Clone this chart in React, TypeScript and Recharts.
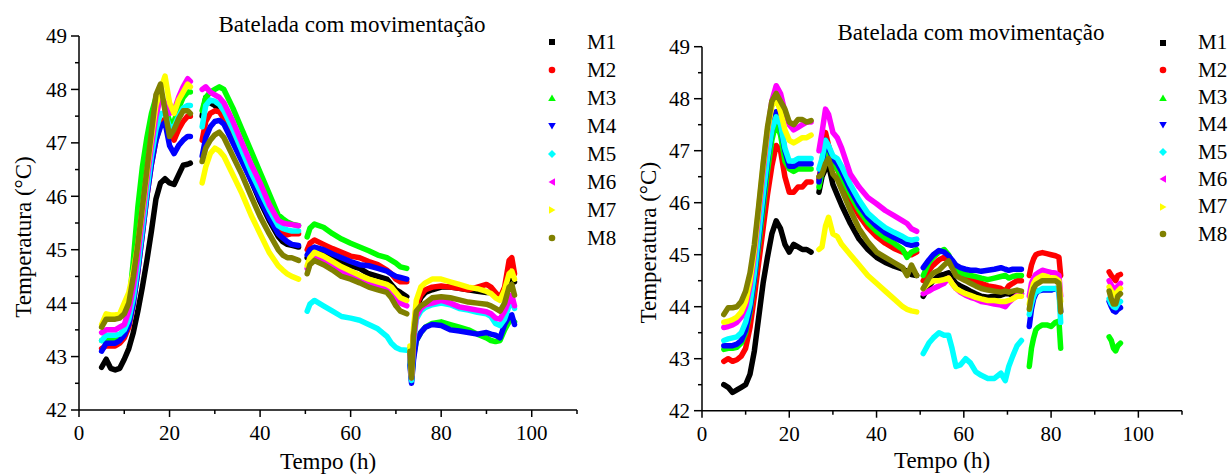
import { LineChart, Line, XAxis, YAxis } from "recharts";

const FONT = "'Liberation Serif', 'Times New Roman', serif";

const SERIES = [
  { key: "M1", color: "#000000", shape: "square" },
  { key: "M2", color: "#ff0000", shape: "circle" },
  { key: "M3", color: "#00ff00", shape: "up" },
  { key: "M4", color: "#0000ff", shape: "down" },
  { key: "M5", color: "#00ffff", shape: "diamond" },
  { key: "M6", color: "#ff00ff", shape: "left" },
  { key: "M7", color: "#ffff00", shape: "right" },
  { key: "M8", color: "#808000", shape: "circle" },
];

const X_TICKS = [0, 10, 20, 30, 40, 50, 60, 70, 80, 90, 100, 110];
const Y_TICKS = [42, 42.5, 43, 43.5, 44, 44.5, 45, 45.5, 46, 46.5, 47, 47.5, 48, 48.5, 49];

// left panel: time (h) per recording segment, and each probe's temperature per segment
const leftTime = [
  [5, 6, 7, 8, 9, 10, 11, 12, 13, 14, 15, 16, 17, 18, 19, 20, 21, 22, 23, 24, 24.6],
  [27.2, 28, 29, 30, 31, 32, 34, 36, 38, 40, 42, 44, 45, 46, 47, 48.5],
  [50.4, 51, 52, 54, 56, 58, 60, 62, 64, 66, 68, 69, 70, 71, 72.4],
  [73.1, 73.45, 73.9, 74.5, 75.5, 76.5, 78, 80, 82, 84, 86, 88, 90, 91, 92, 93, 94, 95, 95.6, 96.2],
];
const leftM1 = [
  [42.8, 42.95, 42.78, 42.75, 42.78, 42.95, 43.15, 43.45, 43.85, 44.3, 44.8, 45.35, 45.95, 46.25, 46.33, 46.25, 46.22, 46.4, 46.58, 46.6, 46.62],
  [47.5, 47.85, 47.75, 47.7, 47.62, 47.5, 47.1, 46.7, 46.3, 45.9, 45.55, 45.25, 45.15, 45.1, 45.08, 45.05],
  [44.85, 44.95, 45.0, 44.95, 44.85, 44.75, 44.7, 44.65, 44.55, 44.5, 44.45, 44.35, 44.25, 44.2, 44.12],
  [43.1, 42.6, 43.4, 43.9, 44.1, 44.2, 44.25, 44.3, 44.3, 44.28, 44.25, 44.22, 44.2, 44.2, 44.15, 44.1, 44.2, 44.45, 44.55, 44.4],
];
const leftM2 = [
  [43.15, 43.2, 43.2, 43.2, 43.25, 43.35, 43.55, 44.0, 44.6, 45.3, 46.0, 46.6, 47.05, 47.35, 47.45, 47.15, 47.05, 47.25, 47.4, 47.5, 47.5],
  [47.05, 47.4, 47.55, 47.6, 47.58, 47.45, 47.1, 46.72, 46.35, 45.98, 45.65, 45.38, 45.3, 45.28, 45.3, 45.3],
  [45.0, 45.12, 45.18, 45.1, 45.02, 44.95, 44.88, 44.85, 44.78, 44.72, 44.62, 44.55, 44.45, 44.4, 44.4],
  [43.15, 42.6, 43.45, 43.95, 44.15, 44.25, 44.3, 44.32, 44.3, 44.28, 44.25, 44.3, 44.35, 44.3, 44.2, 44.1, 44.3, 44.8, 44.85, 44.55],
];
const leftM3 = [
  [43.3, 43.3, 43.3, 43.3, 43.35, 43.5, 43.95, 44.8, 45.8, 46.55, 47.1, 47.55, 47.85, 47.9, 47.7, 47.4, 47.4, 47.65, 47.85, 47.95, 47.95],
  [47.6, 47.85, 47.95, 48.0, 48.05, 48.0, 47.65, 47.25, 46.85, 46.45, 46.05, 45.65, 45.58, 45.52, 45.48, 45.45],
  [45.24, 45.4, 45.48, 45.42, 45.3, 45.2, 45.12, 45.05, 44.98, 44.9, 44.85, 44.8, 44.75, 44.68, 44.65],
  [42.9, 42.55, 43.0, 43.3, 43.45, 43.55, 43.62, 43.65, 43.6, 43.55, 43.5, 43.42, 43.35, 43.3, 43.28, 43.3, 43.5, 43.65, 43.7, 43.65],
];
const leftM4 = [
  [43.1, 43.25, 43.25, 43.25, 43.3, 43.4, 43.6, 44.0, 44.6, 45.3, 46.0, 46.6, 47.05, 47.3, 47.38, 46.95, 46.8, 46.95, 47.05, 47.12, 47.12],
  [46.75, 47.1, 47.3, 47.4, 47.42, 47.35, 47.0, 46.65, 46.3, 45.95, 45.6, 45.3, 45.22, 45.15, 45.1, 45.08],
  [44.9, 45.0, 45.05, 45.0, 44.92, 44.85, 44.78, 44.72, 44.7, 44.65, 44.6, 44.55, 44.5, 44.48, 44.45],
  [42.85, 42.5, 42.95, 43.3, 43.45, 43.55, 43.6, 43.58, 43.5, 43.48, 43.45, 43.42, 43.45, 43.42, 43.4, 43.35, 43.6, 43.75, 43.78, 43.6],
];
const leftM5 = [
  [43.3, 43.4, 43.4, 43.4, 43.42, 43.5, 43.7, 44.1, 44.7, 45.4, 46.1, 46.75, 47.25, 47.55, 47.55, 47.3, 47.3, 47.5, 47.65, 47.7, 47.7],
  [47.3, 47.7, 47.8, 47.78, 47.72, 47.6, 47.25, 46.85, 46.45, 46.1, 45.75, 45.45, 45.4, 45.37, 45.35, 45.35],
  [43.85, 43.98, 44.05, 43.95, 43.85, 43.75, 43.72, 43.68, 43.6, 43.52, 43.38, 43.25, 43.17, 43.13, 43.12],
  [43.0, 42.55, 43.25, 43.7, 43.85, 43.92, 43.97, 44.0, 43.97, 43.9, 43.87, 43.83, 43.8, 43.75, 43.62, 43.58, 43.7, 43.95, 44.05, 43.9],
];
const leftM6 = [
  [43.45, 43.5, 43.5, 43.5, 43.55, 43.6, 43.85, 44.3, 44.9, 45.6, 46.3, 46.95, 47.5, 47.85, 47.75, 47.55, 47.6, 47.85, 48.05, 48.2, 48.15],
  [48.0, 48.05, 47.95, 47.9, 47.85, 47.75, 47.4, 47.0, 46.6, 46.25, 45.85, 45.55, 45.5, 45.48, 45.47, 45.45],
  [44.65, 44.8, 44.88, 44.8, 44.7, 44.6, 44.52, 44.45, 44.38, 44.32, 44.25, 44.2, 44.1, 44.0, 43.95],
  [43.05, 42.6, 43.3, 43.75, 43.9, 43.97, 44.0, 44.05, 44.0, 43.93, 43.9, 43.87, 43.84, 43.8, 43.72, 43.7, 43.85, 44.05, 44.15, 43.95],
];
const leftM7 = [
  [43.6, 43.8, 43.78, 43.78, 43.8, 44.0, 44.2, 44.6, 45.1, 45.75, 46.45, 47.1, 47.7, 48.0, 48.25, 47.75, 47.55, 47.8, 47.95, 48.1, 48.05],
  [46.25, 46.55, 46.8, 46.9, 46.85, 46.75, 46.4, 46.05, 45.65, 45.3, 44.95, 44.7, 44.62, 44.55, 44.5, 44.45],
  [44.7, 44.85, 44.95, 44.88, 44.78, 44.68, 44.6, 44.52, 44.45, 44.4, 44.35, 44.3, 44.2, 44.1, 44.05],
  [43.2, 42.65, 43.55, 44.05, 44.3, 44.38, 44.45, 44.45, 44.4, 44.35, 44.3, 44.27, 44.22, 44.18, 44.1, 44.05, 44.25, 44.55, 44.6, 44.45],
];
const leftM8 = [
  [43.55, 43.7, 43.7, 43.7, 43.72, 43.8, 44.0, 44.5, 45.1, 45.8, 46.5, 47.2, 47.9, 48.1, 47.6, 47.12, 47.25, 47.45, 47.6, 47.6, 47.55],
  [46.65, 46.9, 47.05, 47.15, 47.2, 47.1, 46.75, 46.4, 46.0, 45.62, 45.3, 45.0, 44.9, 44.85, 44.85, 44.8],
  [44.55, 44.72, 44.8, 44.72, 44.62, 44.5, 44.45, 44.38, 44.3, 44.25, 44.2, 44.1, 43.95, 43.85, 43.8],
  [43.1, 42.6, 43.4, 43.85, 43.95, 44.0, 44.1, 44.12, 44.1, 44.06, 44.02, 44.0, 43.98, 43.95, 43.9, 43.85, 44.0, 44.3, 44.35, 44.15],
];

// right panel
const rightTime = [
  [5, 6, 7, 8, 9, 10, 11, 12, 13, 14, 15, 16, 17, 18, 19, 20, 21, 22, 23, 24, 25],
  [26.8, 27.5, 28.3, 29, 30, 31, 32, 34, 36, 38, 40, 42, 44, 46, 47, 48, 49.2],
  [50.7, 52, 53, 54.3, 55.5, 56.5, 57.3, 58.2, 59.2, 60.4, 61.5, 62.7, 64, 65.5, 67, 68.5, 69.5, 70.3, 71.2, 72.2, 73.2],
  [75, 75.5, 76, 76.5, 77, 78, 79, 80, 81, 81.8, 82.2],
  [93.3, 93.8, 94.3, 94.8, 95.3, 95.9],
];
const rightM1 = [
  [42.5, 42.45, 42.35, 42.4, 42.45, 42.5, 42.7, 43.15, 43.8, 44.45, 44.95, 45.4, 45.65, 45.5, 45.2, 45.05, 45.2, 45.15, 45.1, 45.1, 45.05],
  [46.2, 46.5, 46.65, 46.72, 46.35, 46.15, 45.95, 45.6, 45.3, 45.1, 44.95, 44.85, 44.78, 44.72, 44.68, 44.62, 44.6],
  [44.2, 44.4, 44.5, 44.6, 44.62, 44.65, 44.55, 44.45, 44.4, 44.35, 44.3, 44.25, 44.2, 44.18, 44.2, 44.22, 44.25, 44.25, 44.22, 44.25, 44.25],
  [],
  [],
];
const rightM2 = [
  [42.95, 43.0, 42.95, 42.98, 43.05, 43.2, 43.6, 44.2, 44.85, 45.5, 46.15, 46.7, 47.1, 47.0, 46.5, 46.2, 46.2, 46.3, 46.3, 46.4, 46.4],
  [46.45, 46.8, 47.35, 47.1, 46.8, 46.65, 46.45, 46.05, 45.75, 45.52, 45.35, 45.22, 45.12, 45.05, 45.0, 45.0, 45.05],
  [44.5, 44.7, 44.8, 44.9, 44.95, 44.9, 44.78, 44.65, 44.6, 44.55, 44.52, 44.5, 44.45, 44.4, 44.38, 44.35, 44.3, 44.4, 44.45, 44.5, 44.5],
  [44.6, 44.8, 44.92, 45.0, 45.02, 45.04, 45.02, 45.0, 44.98, 44.95, 44.6],
  [44.67, 44.6, 44.55, 44.5, 44.6, 44.62],
];
const rightM3 = [
  [43.18, 43.2, 43.2, 43.22, 43.3, 43.5, 43.9, 44.5, 45.2, 45.9, 46.6, 47.2, 47.55, 47.3, 46.8, 46.65, 46.6, 46.65, 46.65, 46.65, 46.65],
  [46.3, 46.6, 47.05, 46.95, 46.75, 46.65, 46.5, 46.15, 45.85, 45.62, 45.45, 45.32, 45.22, 45.1, 44.95, 45.05, 45.1],
  [44.6, 44.85, 44.95, 45.05, 45.1, 45.0, 44.85, 44.72, 44.65, 44.62, 44.6, 44.58, 44.55, 44.52, 44.55, 44.58, 44.6, 44.55, 44.58, 44.6, 44.6],
  [42.85, 43.2, 43.4, 43.55, 43.6, 43.65, 43.65, 43.62, 43.7, 43.72, 43.2],
  [43.42, 43.35, 43.2, 43.15, 43.25, 43.3],
];
const rightM4 = [
  [43.25, 43.25, 43.25, 43.28, 43.35, 43.55, 43.95, 44.55, 45.3, 46.05, 46.8, 47.4, 47.75, 47.5, 47.0, 46.7, 46.7, 46.75, 46.75, 46.75, 46.75],
  [46.4, 46.75, 47.2, 47.05, 46.85, 46.75, 46.6, 46.25, 45.95, 45.72, 45.55, 45.42, 45.33, 45.25, 45.2, 45.18, 45.2],
  [44.75, 44.9, 45.0, 45.08, 45.05, 44.98, 44.9, 44.8, 44.75, 44.72, 44.7, 44.7, 44.68, 44.7, 44.72, 44.75, 44.72, 44.7, 44.72, 44.72, 44.72],
  [43.62, 43.95, 44.15, 44.25, 44.3, 44.32, 44.32, 44.32, 44.35, 44.3, 43.9],
  [44.1, 44.0, 43.92, 43.9, 43.95, 43.98],
];
const rightM5 = [
  [43.35, 43.38, 43.4, 43.42, 43.5, 43.7, 44.05, 44.65, 45.4, 46.15, 46.85, 47.4, 47.65, 47.5, 47.05, 46.8, 46.8, 46.85, 46.85, 46.85, 46.85],
  [46.65, 46.85, 47.2, 47.1, 46.9, 46.85, 46.7, 46.35, 46.05, 45.8, 45.65, 45.52, 45.43, 45.35, 45.3, 45.28, 45.3],
  [43.1, 43.3, 43.4, 43.5, 43.45, 43.45, 43.2, 42.85, 42.88, 43.0, 42.92, 42.75, 42.68, 42.62, 42.62, 42.72, 42.58, 42.85, 43.05, 43.25, 43.35],
  [43.85, 44.05, 44.2, 44.28, 44.3, 44.35, 44.35, 44.35, 44.35, 44.3, 43.7],
  [44.15, 44.05, 44.0, 43.98, 44.05, 44.1],
];
const rightM6 = [
  [43.6, 43.62, 43.65, 43.7, 43.8, 44.0, 44.4, 45.0, 45.8, 46.6, 47.35, 47.95, 48.25, 48.1, 47.75, 47.5, 47.4, 47.45, 47.5, 47.55, 47.55],
  [47.0, 47.35, 47.8, 47.7, 47.35, 47.25, 47.05, 46.55, 46.3, 46.1, 45.98, 45.85, 45.75, 45.65, 45.6, 45.5, 45.45],
  [44.25, 44.3, 44.35, 44.4, 44.45, 44.55, 44.45, 44.35, 44.28, 44.22, 44.18, 44.15, 44.1, 44.08, 44.05, 44.03, 44.0, 44.08, 44.15, 44.22, 44.25],
  [44.2, 44.45, 44.55, 44.62, 44.65, 44.7, 44.68, 44.66, 44.65, 44.6, 44.2],
  [44.5, 44.42, 44.35, 44.3, 44.4, 44.45],
];
const rightM7 = [
  [43.7, 43.72, 43.75, 43.8, 43.9, 44.1, 44.5, 45.1, 45.9, 46.7, 47.4, 47.85, 48.0, 47.75, 47.4, 47.2, 47.15, 47.2, 47.25, 47.25, 47.3],
  [45.1, 45.15, 45.55, 45.72, 45.4, 45.35, 45.2, 45.0, 44.8, 44.6, 44.45, 44.3, 44.15, 44.0, 43.95, 43.92, 43.9],
  [44.35, 44.45, 44.5, 44.5, 44.52, 44.55, 44.45, 44.35, 44.3, 44.25, 44.22, 44.18, 44.15, 44.12, 44.12, 44.1, 44.1, 44.12, 44.15, 44.2, 44.2],
  [44.05, 44.3, 44.45, 44.52, 44.55, 44.6, 44.58, 44.55, 44.55, 44.5, 44.1],
  [44.38, 44.3, 44.25, 44.22, 44.3, 44.35],
];
const rightM8 = [
  [43.85, 43.98, 43.98, 44.0, 44.1, 44.3, 44.65, 45.2, 45.95, 46.75, 47.45, 47.95, 48.1, 47.95, 47.8, 47.55, 47.5, 47.6, 47.6, 47.55, 47.58],
  [46.5, 46.55, 46.75, 46.85, 46.55, 46.45, 46.25, 45.85, 45.5, 45.25, 45.05, 44.95, 44.85, 44.75, 44.6, 44.8, 44.6],
  [44.35, 44.55, 44.65, 44.7, 44.8, 44.88, 44.75, 44.6, 44.55, 44.5, 44.45, 44.4, 44.35, 44.32, 44.3, 44.28, 44.3, 44.28, 44.3, 44.32, 44.3],
  [43.95, 44.2, 44.35, 44.42, 44.45, 44.5, 44.5, 44.5, 44.5, 44.45, 43.9],
  [44.3, 44.15, 44.05, 44.05, 44.2, 44.25],
];

type Segments = number[][];
type Row = Record<string, number | null>;

// one row per reading; an empty row between segments breaks the lines
function buildRows(times: Segments, series: Record<string, Segments>): Row[] {
  const rows: Row[] = [];
  times.forEach((seg, s) => {
    if (s > 0) {
      const prev = times[s - 1];
      const gap: Row = { t: (prev[prev.length - 1] + seg[0]) / 2 };
      SERIES.forEach((sr) => (gap[sr.key] = null));
      rows.push(gap);
    }
    seg.forEach((t, i) => {
      const row: Row = { t };
      SERIES.forEach((sr) => {
        const v = series[sr.key][s][i];
        row[sr.key] = v === undefined ? null : v;
      });
      rows.push(row);
    });
  });
  return rows;
}

const leftRows = buildRows(leftTime, {
  M1: leftM1, M2: leftM2, M3: leftM3, M4: leftM4,
  M5: leftM5, M6: leftM6, M7: leftM7, M8: leftM8,
});
const rightRows = buildRows(rightTime, {
  M1: rightM1, M2: rightM2, M3: rightM3, M4: rightM4,
  M5: rightM5, M6: rightM6, M7: rightM7, M8: rightM8,
});

function XTick(props: any) {
  const { x, y, payload } = props;
  const v = payload.value;
  const major = v % 20 === 0 && v <= 100;
  return (
    <g transform={`translate(${x},${y})`}>
      <line x1={0} x2={0} y1={0} y2={major ? 7 : 4} stroke="#000" strokeWidth={1.5} />
      {major && (
        <text x={0} y={30} textAnchor="middle" fontSize={21} fill="#000">
          {v}
        </text>
      )}
    </g>
  );
}

function YTick(props: any) {
  const { x, y, payload } = props;
  const v = payload.value;
  const major = Number.isInteger(v);
  return (
    <g transform={`translate(${x},${y})`}>
      <line x1={0} x2={major ? -8 : -4} y1={0} y2={0} stroke="#000" strokeWidth={1.5} />
      {major && (
        <text x={-12} y={0} dy="0.35em" textAnchor="end" fontSize={21} fill="#000">
          {v}
        </text>
      )}
    </g>
  );
}

function Marker({ shape, color }: { shape: string; color: string }) {
  let el;
  switch (shape) {
    case "square":
      el = <rect x={2} y={2} width={6} height={6} fill={color} />;
      break;
    case "up":
      el = <polygon points="5,1.5 8.8,8 1.2,8" fill={color} />;
      break;
    case "down":
      el = <polygon points="1.2,2 8.8,2 5,8.5" fill={color} />;
      break;
    case "diamond":
      el = <polygon points="5,1 9,5 5,9 1,5" fill={color} />;
      break;
    case "left":
      el = <polygon points="1.5,5 8,1.2 8,8.8" fill={color} />;
      break;
    case "right":
      el = <polygon points="2,1.2 8.5,5 2,8.8" fill={color} />;
      break;
    default:
      el = <circle cx={5} cy={5} r={3.3} fill={color} />;
  }
  return (
    <svg width={10} height={10} style={{ display: "block" }}>
      {el}
    </svg>
  );
}

function SeriesLegend({ markerX, firstY, step }: { markerX: number; firstY: number; step: number }) {
  return (
    <div style={{ position: "absolute", left: markerX - 5, top: firstY - step / 2 }}>
      {SERIES.map((s) => (
        <div key={s.key} style={{ display: "flex", alignItems: "center", height: step }}>
          <Marker shape={s.shape} color={s.color} />
          <span style={{ marginLeft: 30, fontSize: 21, lineHeight: 1, color: "#000" }}>{s.key}</span>
        </div>
      ))}
    </div>
  );
}

function Title({ cx, top }: { cx: number; top: number }) {
  return (
    <div
      style={{
        position: "absolute",
        left: cx,
        top,
        transform: "translateX(-50%)",
        fontSize: 23,
        whiteSpace: "nowrap",
        color: "#000",
      }}
    >
      Batelada com movimentação
    </div>
  );
}

interface PanelProps {
  rows: Row[];
  width: number;
  top: number;
  right: number;
  axisWidth: number;
  plotBottom: number;
  yLabelOffset: number;
  xLabelOffset: number;
}

function Panel({ rows, width, top, right, axisWidth, plotBottom, yLabelOffset, xLabelOffset }: PanelProps) {
  const height = 475;
  return (
    <LineChart width={width} height={height} data={rows} margin={{ top, right, left: 0, bottom: 0 }}>
      <XAxis
        dataKey="t"
        type="number"
        domain={[0, 110]}
        ticks={X_TICKS}
        interval={0}
        tick={(p: any) => <XTick {...p} />}
        tickLine={false}
        tickSize={0}
        tickMargin={0}
        height={height - plotBottom}
        axisLine={{ stroke: "#000", strokeWidth: 1.5 }}
        label={{ value: "Tempo (h)", position: "insideBottom", offset: xLabelOffset, fontSize: 23, fill: "#000" }}
      />
      <YAxis
        type="number"
        domain={[42, 49]}
        ticks={Y_TICKS}
        interval={0}
        tick={(p: any) => <YTick {...p} />}
        tickLine={false}
        tickSize={0}
        tickMargin={0}
        width={axisWidth}
        axisLine={{ stroke: "#000", strokeWidth: 1.5 }}
        label={{
          value: "Temperatura (°C)",
          angle: -90,
          position: "insideLeft",
          offset: yLabelOffset,
          dy: 14,
          fontSize: 23,
          fill: "#000",
          style: { textAnchor: "middle" },
        }}
      />
      {SERIES.map((s) => (
        <Line
          key={s.key}
          type="linear"
          dataKey={s.key}
          stroke={s.color}
          strokeWidth={5.5}
          strokeLinecap="round"
          strokeLinejoin="round"
          dot={false}
          activeDot={false}
          connectNulls={false}
          isAnimationActive={false}
        />
      ))}
    </LineChart>
  );
}

export default function App() {
  return (
    <div
      style={{
        position: "absolute",
        left: 0,
        top: 0,
        width: 1230,
        height: 475,
        background: "#fff",
        fontFamily: FONT,
        overflow: "hidden",
      }}
    >
      <div style={{ position: "absolute", left: 0, top: 0 }}>
        <Panel
          rows={leftRows}
          width={615}
          top={36}
          right={38}
          axisWidth={79}
          plotBottom={410}
          yLabelOffset={23}
          xLabelOffset={6}
        />
      </div>
      <div style={{ position: "absolute", left: 615, top: 0 }}>
        <Panel
          rows={rightRows}
          width={615}
          top={46.7}
          right={48}
          axisWidth={87}
          plotBottom={410.7}
          yLabelOffset={33}
          xLabelOffset={7}
        />
      </div>
      <Title cx={352} top={12} />
      <Title cx={971} top={20} />
      <SeriesLegend markerX={552} firstY={42} step={28} />
      <SeriesLegend markerX={1163} firstY={43} step={27.3} />
    </div>
  );
}
